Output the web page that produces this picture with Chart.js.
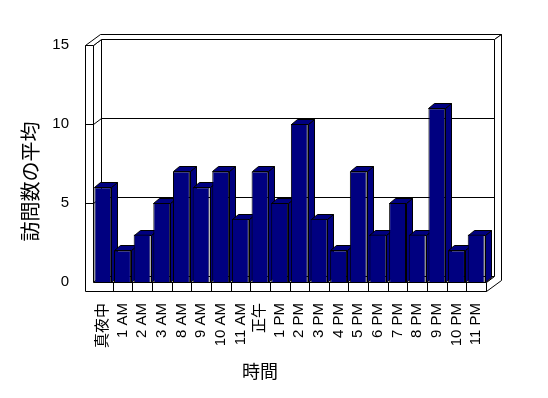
<!DOCTYPE html>
<html lang="ja">
<head>
<meta charset="UTF-8">
<title>訪問数の平均</title>
<script src="https://cdn.jsdelivr.net/npm/chart.js"></script>
<style>
  body { margin: 0; background: #fff; }
</style>
</head>
<body>
<canvas id="myChart" width="548" height="398"></canvas>
<script>
// 時間帯ごとの訪問数の平均
const hours = ['真夜中', '1 AM', '2 AM', '3 AM', '8 AM', '9 AM', '10 AM', '11 AM', '正午', '1 PM',
  '2 PM', '3 PM', '4 PM', '5 PM', '6 PM', '7 PM', '8 PM', '9 PM', '10 PM', '11 PM'];
const visits = [6, 2, 3, 5, 7, 6, 7, 4, 7, 5, 10, 4, 2, 7, 3, 5, 3, 11, 2, 3];
const yTicks = [0, 5, 10, 15];

const FONT = '"Liberation Sans", Arial, "Noto Sans CJK JP", sans-serif';
const NAVY = '#000080';

// 奥行き(壁の内側 / 壁の外側 / 棒)
const D1 = [8, -6], DT = [15, -11], BD = [6, -5];
const WALL = 8, FLOOR = 9;

const px = v => Math.round(v) + 0.5;

function poly(ctx, pts, fill) {
  ctx.beginPath();
  ctx.moveTo(px(pts[0][0]), px(pts[0][1]));
  for (let i = 1; i < pts.length; i++) ctx.lineTo(px(pts[i][0]), px(pts[i][1]));
  ctx.closePath();
  ctx.fillStyle = fill;
  ctx.fill();
  ctx.stroke();
}

function line(ctx, x1, y1, x2, y2) {
  ctx.beginPath();
  ctx.moveTo(px(x1), px(y1));
  ctx.lineTo(px(x2), px(y2));
  ctx.stroke();
}

// 3D の壁・床・棒の側面と上面
const box3d = {
  id: 'box3d',
  afterLayout(chart) {
    // 縦軸タイトルを少し下へ(目盛の位置は configure 済みなので変わらない)
    chart.scales.y.bottom += 36;
  },
  beforeDatasetsDraw(chart) {
    const {ctx, chartArea: a, scales: {x, y}} = chart;
    const L = a.left, R = a.right;
    const T = y.getPixelForValue(y.max), B = y.getPixelForValue(0);
    ctx.save();
    ctx.strokeStyle = '#000';
    ctx.lineWidth = 1;

    // 奥の壁
    poly(ctx, [[L + D1[0], T + D1[1]], [R + D1[0], T + D1[1]], [R + D1[0], B + D1[1]], [L + D1[0], B + D1[1]]], '#fff');
    // 左の壁の内側
    poly(ctx, [[L, T], [L + D1[0], T + D1[1]], [L + D1[0], B + D1[1]], [L, B]], '#fff');
    // 目盛線
    yTicks.forEach(v => {
      if (v === 0 || v === y.max) return;
      const yy = y.getPixelForValue(v);
      line(ctx, L + D1[0], yy + D1[1], R + D1[0], yy + D1[1]);
      line(ctx, L, yy, L + D1[0], yy + D1[1]);
    });
    // 床
    poly(ctx, [[L, B], [R, B], [R + D1[0], B + D1[1]], [L + D1[0], B + D1[1]]], '#fff');
    // 壁の上面
    poly(ctx, [[L - WALL, T], [L - WALL + DT[0], T + DT[1]], [R + DT[0], T + DT[1]],
      [R + D1[0], T + D1[1]], [L + D1[0], T + D1[1]], [L, T]], '#fff');
    // 右端の面
    poly(ctx, [[R, B], [R + D1[0], B + D1[1]], [R + D1[0], T + D1[1]], [R + DT[0], T + DT[1]],
      [R + DT[0], B + FLOOR + DT[1]], [R, B + FLOOR]], '#fff');
    // 手前の面(左の壁と床)
    poly(ctx, [[L - WALL, T], [L - WALL, B + FLOOR], [R, B + FLOOR], [R, B], [L, B], [L, T]], '#fff');
    yTicks.forEach(v => {
      if (v === 0 || v === y.max) return;
      const yy = y.getPixelForValue(v);
      line(ctx, L - WALL, yy, L, yy);
    });
    for (let i = 1; i < hours.length; i++) {
      const xx = (x.getPixelForValue(i - 1) + x.getPixelForValue(i)) / 2;
      line(ctx, xx, B, xx, B + FLOOR);
    }

    // 棒の側面と上面
    chart.getDatasetMeta(0).data.forEach(bar => {
      const p = bar.getProps(['x', 'y', 'base', 'width'], true);
      const l = p.x - p.width / 2, r = p.x + p.width / 2;
      poly(ctx, [[r, p.y], [r + BD[0], p.y + BD[1]], [r + BD[0], p.base + BD[1]], [r, p.base]], NAVY);
      poly(ctx, [[l, p.y], [l + BD[0], p.y + BD[1]], [r + BD[0], p.y + BD[1]], [r, p.y]], NAVY);
    });
    ctx.restore();
  }
};

Chart.defaults.color = '#000';
Chart.defaults.font.family = FONT;

new Chart(document.getElementById('myChart'), {
  type: 'bar',
  data: {
    labels: hours,
    datasets: [{
      data: visits,
      backgroundColor: NAVY,
      borderColor: '#000',
      borderWidth: 1,
      barPercentage: 0.86,
      categoryPercentage: 1
    }]
  },
  options: {
    responsive: false,
    animation: false,
    layout: { padding: { left: 34, right: 62, top: 45, bottom: 0 } },
    plugins: {
      legend: { display: false },
      tooltip: { enabled: false },
      title: {
        display: true,
        position: 'bottom',
        text: '時間',
        font: { size: 18, weight: 'normal', lineHeight: 1 },
        padding: { top: 0, bottom: 16 }
      }
    },
    scales: {
      x: {
        grid: { display: false },
        border: { display: false },
        ticks: { autoSkip: false, minRotation: 90, maxRotation: 90, padding: 13, font: { size: 15 } },
        afterFit: s => { s.height = 82; }
      },
      y: {
        min: 0,
        max: 15,
        afterBuildTicks: s => { s.ticks = yTicks.map(v => ({ value: v })); },
        grid: { display: false },
        border: { display: false },
        ticks: { padding: 16, font: { size: 15 } },
        title: {
          display: true,
          text: '訪問数の平均',
          font: { size: 20, lineHeight: 1 },
          padding: { top: -12, bottom: 0 }
        },
        afterFit: s => { s.width = 59; }
      }
    }
  },
  plugins: [box3d]
});
</script>
</body>
</html>
